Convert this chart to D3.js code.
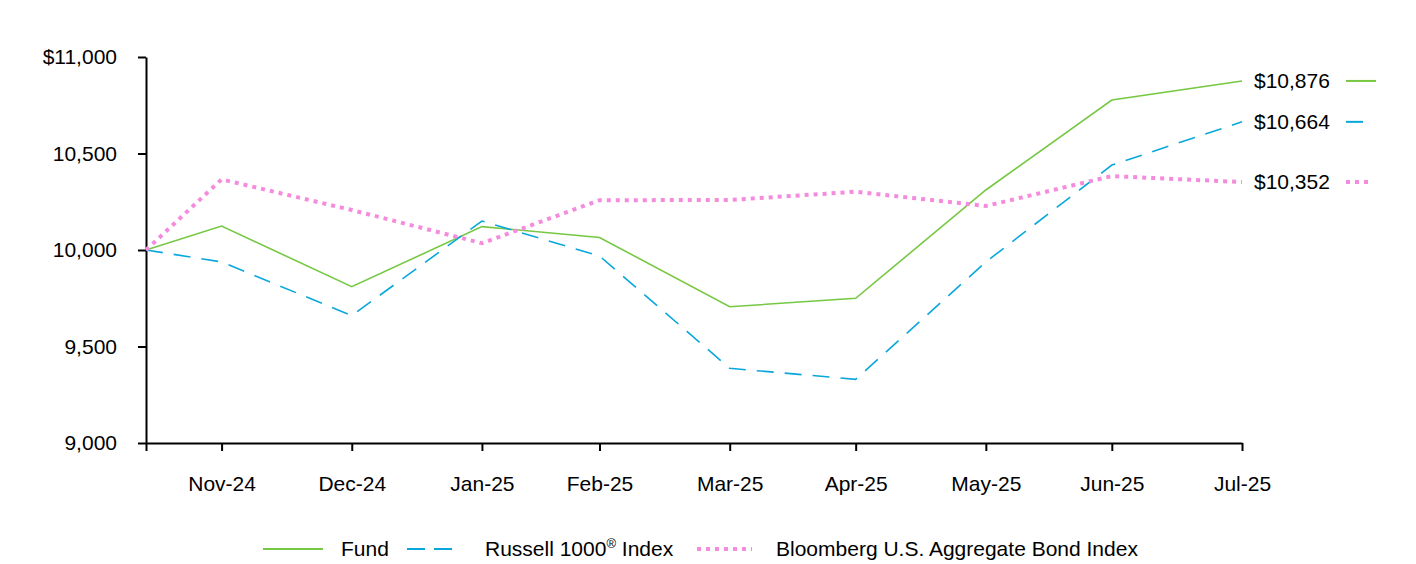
<!DOCTYPE html>
<html>
<head>
<meta charset="utf-8">
<script src="https://cdn.jsdelivr.net/npm/d3@7"></script>
<style>
  body { margin: 0; background: #fff; }
  text { font-family: 'Liberation Sans', Arial, sans-serif; fill: #000; }
</style>
</head>
<body>
<div id="chart"></div>
<script>
const dates = ['2024-11-12', '2024-11-30', '2024-12-31', '2025-01-31', '2025-02-28',
    '2025-03-31', '2025-04-30', '2025-05-31', '2025-06-30', '2025-07-31'];
const fund = [10000, 10124, 9810, 10121, 10065, 9706, 9750, 10311, 10777, 10876];
const russell = [10000, 9938, 9660, 10150, 9969, 9387, 9330, 9938, 10440, 10664];
const bloomberg = [10000, 10366, 10207, 10035, 10258, 10259, 10302, 10228, 10383, 10352];
const yTicks = [9000, 9500, 10000, 10500, 11000];
const seriesNames = ['Fund', 'Russell 1000', 'Bloomberg U.S. Aggregate Bond Index'];

const parse = d3.timeParse('%Y-%m-%d');
const dateObjs = dates.map(parse);

const svgWidth = 1416;
const svgHeight = 564;
const margin = { top: 57, left: 146, bottom: 121, right: 174 };
const fontSize = '21px';

const svg = d3
    .select('#chart')
    .append('svg')
    .attr('width', svgWidth)
    .attr('height', svgHeight);

const x = d3
    .scaleTime()
    .domain([dateObjs[0], dateObjs[dateObjs.length - 1]])
    .range([margin.left, svgWidth - margin.right]);

const y = d3
    .scaleLinear()
    .domain([9000, 11000])
    .range([svgHeight - margin.bottom, margin.top]);

const series = [
    { name: seriesNames[0], values: fund, color: '#76c843', width: 1.6, dash: null },
    { name: seriesNames[1], values: russell, color: '#0aa7dd', width: 1.6, dash: '17,11' },
    { name: seriesNames[2], values: bloomberg, color: '#f58bdd', width: 4, dash: '4,5' }
];

// axes
const yAxis = svg
    .append('g')
    .attr('transform', `translate(${margin.left}, 0)`)
    .call(
        d3.axisLeft(y)
            .tickValues(yTicks)
            .tickSize(8)
            .tickPadding(21)
            .tickSizeOuter(0)
            .tickFormat(d => (d === 11000 ? '$' : '') + d3.format(',')(d))
    );

const xAxis = svg
    .append('g')
    .attr('transform', `translate(0, ${y(9000)})`)
    .call(
        d3.axisBottom(x)
            .tickValues(dateObjs)
            .tickSize(8)
            .tickPadding(25)
            .tickSizeOuter(0)
            .tickFormat((d, i) => (i === 0 ? '' : d3.timeFormat('%b-%y')(d)))
    );

[yAxis, xAxis].forEach(a => {
    a.attr('font-family', null);
    a.select('.domain').attr('stroke', '#000').attr('stroke-width', 2);
    a.selectAll('.tick line').attr('stroke', '#000').attr('stroke-width', 2);
    a.selectAll('.tick text').style('font-size', fontSize).attr('fill', '#000');
});

// lines
const line = d3
    .line()
    .x((d, i) => x(dateObjs[i]))
    .y(d => y(d));

svg.selectAll('path.series')
    .data(series)
    .enter()
    .append('path')
    .attr('class', 'series')
    .attr('fill', 'none')
    .attr('stroke', d => d.color)
    .attr('stroke-width', d => d.width)
    .attr('stroke-dasharray', d => d.dash)
    .attr('d', d => line(d.values));

// end labels
const endX = x(dateObjs[dateObjs.length - 1]);
const ends = svg.selectAll('g.end')
    .data(series)
    .enter()
    .append('g')
    .attr('class', 'end')
    .attr('transform', d => `translate(${endX}, ${y(d.values[d.values.length - 1])})`);

ends.append('text')
    .attr('x', 12)
    .attr('dy', '0.35em')
    .style('font-size', fontSize)
    .text(d => '$' + d3.format(',')(d.values[d.values.length - 1]));

ends.append('line')
    .attr('x1', 104)
    .attr('x2', (d, i) => [134, 123, 130][i])
    .attr('stroke', d => d.color)
    .attr('stroke-width', d => (d.width > 2 ? 4 : 2))
    .attr('stroke-dasharray', d => d.dash);

// legend
const legendY = 549;
const legendItems = [
    { x1: 263, x2: 323, tx: 341 },
    { x1: 407, x2: 458, tx: 485 },
    { x1: 697, x2: 752, tx: 776 }
];

const legend = svg.selectAll('g.legend')
    .data(series)
    .enter()
    .append('g')
    .attr('class', 'legend');

legend.append('line')
    .attr('x1', (d, i) => legendItems[i].x1)
    .attr('x2', (d, i) => legendItems[i].x2)
    .attr('y1', legendY)
    .attr('y2', legendY)
    .attr('stroke', d => d.color)
    .attr('stroke-width', d => (d.width > 2 ? 4 : 2))
    .attr('stroke-dasharray', (d, i) => (i === 1 ? '18,9' : d.dash));

const legendText = legend.append('text')
    .attr('x', (d, i) => legendItems[i].tx)
    .attr('y', legendY)
    .attr('dy', '0.35em')
    .style('font-size', fontSize);

legendText.each(function(d, i) {
    const t = d3.select(this);
    if (i === 1) {
        t.append('tspan').text('Russell 1000');
        t.append('tspan').attr('dy', '-8px').style('font-size', '13px').text('®');
        t.append('tspan').attr('dy', '8px').text(' Index');
    } else {
        t.text(d.name);
    }
});
</script>
</body>
</html>
